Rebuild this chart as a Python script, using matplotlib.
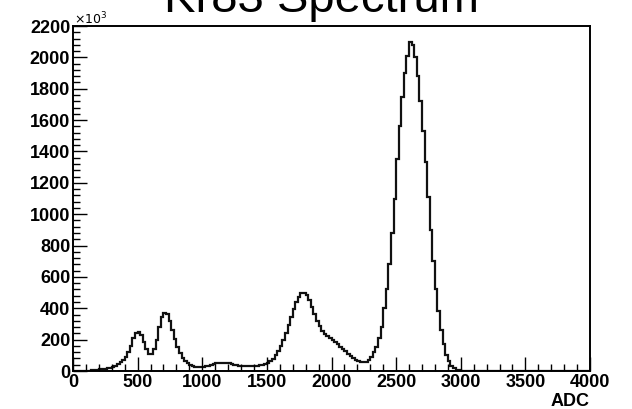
import numpy as np
import matplotlib
matplotlib.use("Agg")
import matplotlib.pyplot as plt
from matplotlib.ticker import MultipleLocator, AutoMinorLocator

# histogram contents, 200 bins of 20 ADC, in units of 10^3 counts
bin_edges = np.arange(0, 4001, 20)
counts = [
    # 0 - 380
    0, 0, 1, 1, 2, 2, 3, 4, 5, 7,
    10, 12, 15, 18, 21, 25, 32, 42, 55, 70,
    # 400 - 780
    90, 120, 160, 210, 240, 250, 230, 185, 140, 108,
    108, 140, 200, 280, 345, 372, 362, 320, 260, 205,
    # 800 - 1180
    155, 115, 85, 62, 48, 38, 32, 28, 26, 26,
    27, 29, 32, 37, 42, 48, 52, 54, 54, 52,
    # 1200 - 1580
    48, 44, 40, 37, 35, 34, 33, 33, 33, 33,
    34, 35, 37, 40, 45, 52, 62, 78, 100, 128,
    # 1600 - 1980
    160, 200, 245, 295, 345, 395, 440, 475, 495, 498,
    485, 455, 410, 365, 320, 285, 258, 238, 222, 210,
    # 2000 - 2380
    198, 185, 170, 155, 140, 125, 110, 96, 82, 70,
    62, 56, 55, 60, 72, 92, 120, 155, 210, 280,
    # 2400 - 2780
    400, 520, 680, 880, 1100, 1350, 1560, 1750, 1900, 2010,
    2100, 2080, 2000, 1880, 1720, 1530, 1330, 1110, 900, 700,
    # 2800 - 3180
    520, 380, 260, 170, 105, 62, 35, 18, 9, 5,
    3, 2, 1, 1, 0, 0, 0, 0, 0, 0,
]
counts = counts + [0] * (200 - len(counts))

title = "Kr83 Spectrum"
x_label = "ADC"

W, H = 632, 409
fig = plt.figure(figsize=(W / 100, H / 100), dpi=100)
ax = fig.add_axes([73 / W, 1 - 371 / H, (590 - 73) / W, (371 - 26) / H])

ax.stairs(counts, bin_edges, color="#111111", lw=1.6)

ax.set_xlim(0, 4000)
ax.set_ylim(0, 2200)
ax.xaxis.set_major_locator(MultipleLocator(500))
ax.yaxis.set_major_locator(MultipleLocator(200))
ax.xaxis.set_minor_locator(AutoMinorLocator(5))
ax.yaxis.set_minor_locator(AutoMinorLocator(5))
ax.tick_params(which="both", direction="in", top=False, right=False, width=1.0)
ax.tick_params(which="major", length=10, labelsize=13, pad=2)
ax.tick_params(which="minor", length=5)
for lab in ax.get_xticklabels() + ax.get_yticklabels():
    lab.set_fontweight("bold")
    lab.set_family("Liberation Sans")
for sp in ax.spines.values():
    sp.set_linewidth(1.4)

fig.text(321 / W, 1 - 12 / H, title, ha="center", va="baseline",
         fontsize=34, family="Liberation Sans")
fig.text(74 / W, 1 - 24 / H, r"$\times10^{3}$", ha="left", va="baseline",
         fontsize=9, family="Liberation Sans")
fig.text(590 / W, 1 - 402 / H, x_label, ha="right", va="center",
         fontsize=13, fontweight="bold", family="Liberation Sans")

fig.savefig("out.png", dpi=100, facecolor="white")
